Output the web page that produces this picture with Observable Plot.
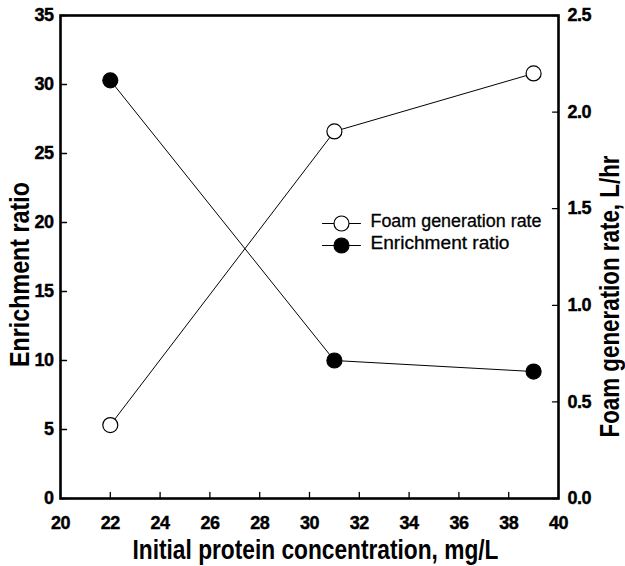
<!DOCTYPE html>
<html>
<head>
<meta charset="utf-8">
<script src="https://cdn.jsdelivr.net/npm/d3@7"></script>
<script src="https://cdn.jsdelivr.net/npm/@observablehq/plot@0.6"></script>
<style>
  html, body { margin: 0; padding: 0; background: #fff; }
  #chart { width: 625px; height: 566px; }
</style>
</head>
<body>
<div id="chart"></div>
<script>
// ---- data ----
const concentration = [22, 31, 39];            // mg/L
const enrichmentRatio = [30.3, 10.0, 9.2];      // left axis
const foamRate = [0.38, 1.90, 2.20];            // right axis, L/hr

const xTicks = [20, 22, 24, 26, 28, 30, 32, 34, 36, 38, 40];
const yLeftTicks = [0, 5, 10, 15, 20, 25, 30, 35];
const yRightTicks = [0.0, 0.5, 1.0, 1.5, 2.0, 2.5];

const xLabel = "Initial protein concentration, mg/L";
const yLeftLabel = "Enrichment ratio";
const yRightLabel = "Foam generation rate, L/hr";
const legendLabels = ["Foam generation rate", "Enrichment ratio"];

// ---- derived ----
const xDomain = [20, 40];
const yLeftDomain = [0, 35];
const yRightDomain = [0, 2.5];
const k = (yLeftDomain[1] - yLeftDomain[0]) / (yRightDomain[1] - yRightDomain[0]);

const enrich = concentration.map((c, i) => ({x: c, y: enrichmentRatio[i]}));
const foam = concentration.map((c, i) => ({x: c, y: foamRate[i] * k}));

const lineShape = {draw(context, l) { context.moveTo(0, 0); context.lineTo(0, -l); }};
const centeredLine = {draw(context, l) { context.moveTo(0, l / 2); context.lineTo(0, -l / 2); }};

const font = "'Liberation Sans', Arial, Helvetica, sans-serif";
const tickLen = 6;
const R = 7.5;

// legend rows (frame-relative offsets)
const legendRows = [
  {label: legendLabels[0], fill: "white", dy: 208, tdy: 205.6},
  {label: legendLabels[1], fill: "black", dy: 230, tdy: 228}
];

const legendMarks = legendRows.flatMap((row) => [
  Plot.vector([row], {frameAnchor: "top-left", dx: 281, dy: row.dy, rotate: 90, length: 38,
    anchor: "start", shape: centeredLine, stroke: "black", strokeWidth: 1}),
  Plot.dot([row], {frameAnchor: "top-left", dx: 281, dy: row.dy, r: R, fill: row.fill,
    stroke: "black", strokeWidth: 1.2}),
  Plot.text([row], {frameAnchor: "top-left", dx: 310, dy: row.tdy, text: "label",
    textAnchor: "start", lineAnchor: "middle", fontSize: 17.5, fontWeight: "normal", fill: "black",
    stroke: "black", strokeWidth: 0.3})
]);

const tickLabelOpts = {fontSize: 18, fontWeight: "bold", label: null, tickSize: 0};

const chart = Plot.plot({
  width: 625,
  height: 566,
  marginLeft: 60,
  marginRight: 67,
  marginTop: 15,
  marginBottom: 68,
  style: {fontFamily: font, fontSize: "18px", color: "black", background: "white", overflow: "visible"},
  x: {domain: xDomain},
  y: {domain: yLeftDomain},
  marks: [
    Plot.axisX({...tickLabelOpts, ticks: xTicks, tickPadding: 18, tickFormat: d => String(d)}),
    Plot.axisY({...tickLabelOpts, anchor: "left", ticks: yLeftTicks, tickPadding: 7, tickFormat: d => String(d)}),
    Plot.axisY({...tickLabelOpts, anchor: "right", ticks: yRightTicks.map(v => v * k), tickPadding: 9,
      tickFormat: d => (d / k).toFixed(1)}),
    // inward ticks
    Plot.vector(xTicks, {x: d => d, frameAnchor: "bottom", rotate: 0, length: tickLen, anchor: "start", shape: lineShape, stroke: "black", strokeWidth: 1.3}),
    Plot.vector(yLeftTicks, {y: d => d, frameAnchor: "left", rotate: 90, length: tickLen, anchor: "start", shape: lineShape, stroke: "black", strokeWidth: 1.3}),
    Plot.vector(yRightTicks, {y: d => d * k, frameAnchor: "right", rotate: -90, length: tickLen, anchor: "start", shape: lineShape, stroke: "black", strokeWidth: 1.3}),
    Plot.frame({stroke: "black", strokeWidth: 2.6}),
    // data
    Plot.line(foam, {x: "x", y: "y", stroke: "black", strokeWidth: 1}),
    Plot.line(enrich, {x: "x", y: "y", stroke: "black", strokeWidth: 1}),
    Plot.dot(foam, {x: "x", y: "y", r: R, fill: "white", stroke: "black", strokeWidth: 1.2}),
    Plot.dot(enrich, {x: "x", y: "y", r: R, fill: "black", stroke: "black", strokeWidth: 1.2}),
    ...legendMarks,
    // axis titles
    Plot.text([xLabel], {frameAnchor: "bottom", dx: 6, dy: 51.5, text: d => d, lineAnchor: "middle", textAnchor: "middle", fontSize: 28, fontWeight: "bold"}),
    Plot.text([yLeftLabel], {frameAnchor: "left", dx: -40, dy: 17.5, text: d => d, rotate: -90, lineAnchor: "middle", textAnchor: "middle", fontSize: 28, fontWeight: "bold"}),
    Plot.text([yRightLabel], {frameAnchor: "right", dx: 52, dy: 39.5, text: d => d, rotate: -90, lineAnchor: "middle", textAnchor: "middle", fontSize: 28, fontWeight: "bold"})
  ]
});

// condense the axis titles (narrow bold face) and fit the legend text width
const titleLengths = new Map([[xLabel, 366], [yLeftLabel, 185], [yRightLabel, 282]]);
const legendLengths = new Map([[legendLabels[0], 171], [legendLabels[1], 139]]);
const tickLabelStrings = new Set([
  ...xTicks.map(String), ...yLeftTicks.map(String), ...yRightTicks.map(v => v.toFixed(1))
]);
d3.select(chart).selectAll("text").each(function () {
  const t = this.textContent;
  const g = this.closest("g");
  const fs = g ? g.getAttribute("font-size") : null;
  let L = null;
  if (fs === "28" && titleLengths.has(t)) L = titleLengths.get(t);
  else if (fs === "17.5" && legendLengths.has(t)) L = legendLengths.get(t);
  if (L != null) {
    this.setAttribute("textLength", L);
    this.setAttribute("lengthAdjust", "spacingAndGlyphs");
  } else if (tickLabelStrings.has(t)) {
    this.style.fontWeight = "bold";
    this.style.stroke = "black";
    this.style.strokeWidth = "0.4px";
    this.style.letterSpacing = "-0.5px";
  }
});

document.getElementById("chart").appendChild(chart);
</script>
</body>
</html>
